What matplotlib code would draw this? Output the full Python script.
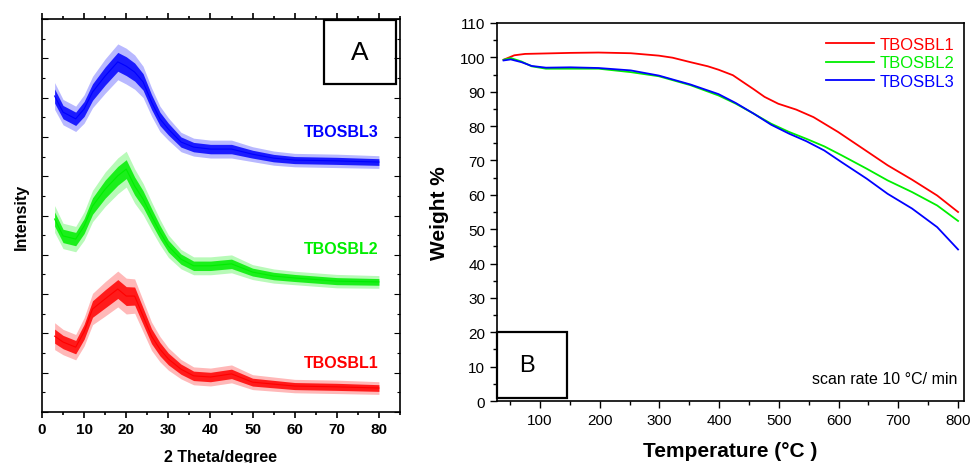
import matplotlib
matplotlib.use('Agg')
import matplotlib.pyplot as plt
from matplotlib.patches import Rectangle
from matplotlib.ticker import MultipleLocator, NullFormatter

plt.rcParams['font.family'] = ['Liberation Sans', 'DejaVu Sans']

# XRD patterns (arbitrary intensity, stacked)
two_theta = [3, 5, 8, 10, 12, 15, 18, 20, 22, 24, 26, 28, 30, 33, 36, 40, 45, 50, 55, 60, 70, 80]
xrd_1 = [19.3, 17.8, 16.5, 20.4, 26.2, 28.8, 31.3, 29.5, 29.5, 24.4, 19.3, 16.0, 13.5, 10.9, 9.2, 8.9, 9.7, 7.6, 7.1, 6.6, 6.4, 6.1]
xrd_2 = [49.1, 44.8, 44.0, 47.3, 52.4, 56.7, 60.1, 61.8, 57.5, 54.2, 49.9, 45.8, 42.2, 38.9, 37.2, 37.2, 37.7, 35.6, 34.6, 34.1, 33.3, 33.1]
xrd_3 = [80.4, 76.3, 74.6, 77.1, 81.4, 85.5, 89.1, 88.0, 86.5, 84.0, 78.9, 74.6, 72.0, 68.7, 67.4, 66.9, 66.9, 65.6, 64.6, 64.1, 63.9, 63.6]
# half width of the noise band along the scan
xrd_noise = [1.8, 1.7, 1.7, 1.9, 2.1, 2.3, 2.4, 2.4, 2.3, 2.1, 1.9, 1.7, 1.5, 1.3, 1.2, 1.2, 1.2, 1.0, 0.95, 0.9, 0.9, 0.85]

# TGA curves
temp_1 = [39, 57, 75, 100, 151, 198, 252, 299, 322, 352, 381, 399, 423, 440, 458, 476, 499, 529, 558, 599, 641, 682, 723, 765, 800]
weight_1 = [99.3, 100.6, 101.0, 101.1, 101.3, 101.4, 101.2, 100.5, 99.9, 98.6, 97.4, 96.4, 94.8, 92.8, 90.7, 88.5, 86.5, 84.8, 82.6, 78.3, 73.4, 68.6, 64.4, 59.8, 55.0]
temp_23 = [39, 51, 69, 86, 110, 151, 198, 252, 299, 352, 399, 428, 458, 487, 517, 546, 576, 605, 647, 682, 723, 765, 800]
weight_2 = [99.3, 99.8, 98.8, 97.4, 96.7, 96.7, 96.7, 95.7, 94.5, 91.9, 88.9, 86.5, 83.6, 80.7, 78.3, 76.3, 74.1, 71.5, 67.6, 64.2, 60.8, 56.9, 52.4]
weight_3 = [99.1, 99.4, 98.6, 97.5, 97.0, 97.1, 96.9, 96.2, 94.7, 92.1, 89.3, 86.7, 83.6, 80.4, 77.8, 75.6, 72.9, 69.5, 64.7, 60.3, 56.0, 50.6, 44.1]

names = ['TBOSBL1', 'TBOSBL2', 'TBOSBL3']
colors = ['#ff0000', '#00ee00', '#0000ff']

fig = plt.figure(figsize=(9.72, 4.64), dpi=100)
ax1 = fig.add_axes([0.0432, 0.1099, 0.3683, 0.8470])
ax2 = fig.add_axes([0.5113, 0.1336, 0.4805, 0.8147])

# ---- panel A: XRD ----
for ys, c, name in zip([xrd_1, xrd_2, xrd_3], colors, names):
    lo = [y - n for y, n in zip(ys, xrd_noise)]
    hi = [y + n for y, n in zip(ys, xrd_noise)]
    lo2 = [y - 1.9 * n for y, n in zip(ys, xrd_noise)]
    hi2 = [y + 1.9 * n for y, n in zip(ys, xrd_noise)]
    ax1.fill_between(two_theta, lo2, hi2, color=c, alpha=0.28, lw=0)
    ax1.fill_between(two_theta, lo, hi, color=c, alpha=0.85, lw=0)
    ax1.plot(two_theta, ys, color=c, lw=0.8)

ax1.text(80, 71.5, names[2], color=colors[2], fontsize=11.5, fontweight='bold', ha='right', va='center')
ax1.text(80, 41.7, names[1], color=colors[1], fontsize=11.5, fontweight='bold', ha='right', va='center')
ax1.text(80, 12.7, names[0], color=colors[0], fontsize=11.5, fontweight='bold', ha='right', va='center')

ax1.set_xlim(0, 85)
ax1.set_ylim(0, 100)
ax1.xaxis.set_major_locator(MultipleLocator(10))
ax1.xaxis.set_minor_locator(MultipleLocator(5))
ax1.yaxis.set_major_locator(MultipleLocator(10))
ax1.yaxis.set_minor_locator(MultipleLocator(5))
ax1.yaxis.set_major_formatter(NullFormatter())
ax1.tick_params(axis='x', which='both', direction='out', top=True, labelsize=11, width=1.2)
ax1.tick_params(axis='y', which='both', direction='in', right=True, width=0.8)
ax1.tick_params(which='major', length=4)
ax1.tick_params(which='minor', length=2.5)
for lab in ax1.get_xticklabels():
    lab.set_fontweight('bold')
for sp in ax1.spines.values():
    sp.set_linewidth(1.2)
ax1.set_xlabel('2 Theta/degree', fontsize=11.5, fontweight='bold', labelpad=9)
ax1.set_ylabel('Intensity', fontsize=11.5, fontweight='bold', labelpad=6)

ax1.add_patch(Rectangle((0.788, 0.834), 0.201, 0.163, transform=ax1.transAxes,
                        fill=False, ec='black', lw=1.6))
ax1.text(0.8885, 0.917, 'A', transform=ax1.transAxes, fontsize=19, ha='center', va='center')

# ---- panel B: TGA ----
ax2.plot(temp_1, weight_1, color=colors[0], lw=1.3, label=names[0])
ax2.plot(temp_23, weight_2, color=colors[1], lw=1.3, label=names[1])
ax2.plot(temp_23, weight_3, color=colors[2], lw=1.3, label=names[2])

ax2.set_xlim(28, 810)
ax2.set_ylim(0, 110)
ax2.xaxis.set_major_locator(MultipleLocator(100))
ax2.xaxis.set_minor_locator(MultipleLocator(50))
ax2.yaxis.set_major_locator(MultipleLocator(10))
ax2.yaxis.set_minor_locator(MultipleLocator(5))
ax2.tick_params(which='both', direction='out', labelsize=11, width=1.0)
ax2.tick_params(which='major', length=5)
ax2.tick_params(which='minor', length=3)
ax2.set_xticks([100, 200, 300, 400, 500, 600, 700, 800])
for sp in ax2.spines.values():
    sp.set_linewidth(1.2)
ax2.set_xlabel('Temperature (°C )', fontsize=15, fontweight='bold', labelpad=10)
ax2.set_ylabel('Weight %', fontsize=15, fontweight='bold', labelpad=8)

leg = ax2.legend(loc='upper right', frameon=False, fontsize=12, handlelength=2.9,
                 handletextpad=0.3, labelspacing=0.22, borderaxespad=0.2,
                 bbox_to_anchor=(1.0, 0.99))
for txt, c in zip(leg.get_texts(), colors):
    txt.set_color(c)

ax2.text(0.985, 0.04, 'scan rate 10 °C/ min', transform=ax2.transAxes, fontsize=11.5,
         ha='right', va='bottom')

ax2.add_patch(Rectangle((28, 1), 117, 19, fill=False, ec='black', lw=1.6, clip_on=False))
ax2.text(78, 10.5, 'B', fontsize=17, ha='center', va='center')

fig.savefig('out.png', dpi=100)
